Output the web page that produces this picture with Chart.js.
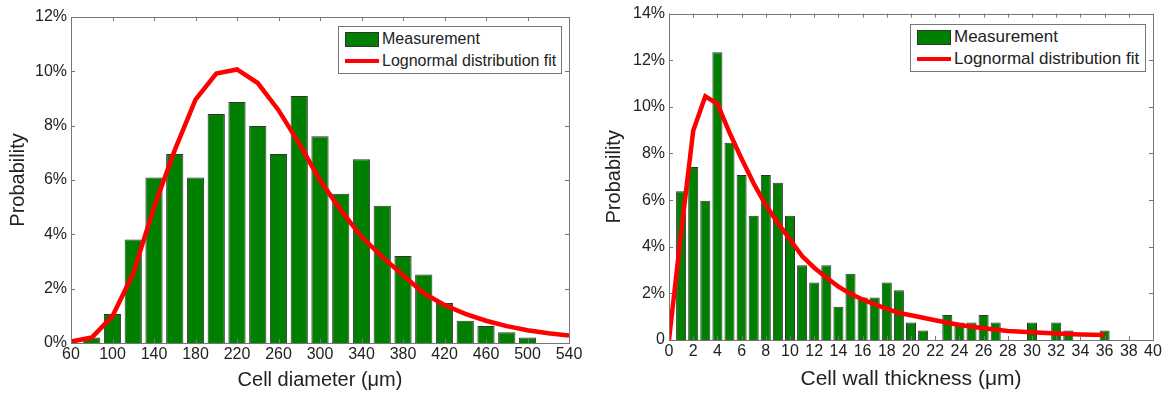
<!DOCTYPE html>
<html lang="en">
<head>
<meta charset="UTF-8">
<title>Cell diameter and cell wall thickness distributions</title>
<script src="https://cdn.jsdelivr.net/npm/chart.js"></script>
<style>
    html, body {
        margin: 0;
        padding: 0;
        background: #fff;
        width: 1169px;
        height: 394px;
        overflow: hidden;
        font-family: "Liberation Sans", Arial, sans-serif;
    }
    .panel {
        position: absolute;
        top: 0;
        height: 394px;
    }
    .legend {
        position: absolute;
        background: #fff;
        border: 1px solid #777;
        font-size: 16px;
        color: #222;
        padding: 1px 4px 1px 6px;
        line-height: 22px;
    }
    .legend .row {
        display: flex;
        align-items: center;
        white-space: nowrap;
    }
    .legend .swatch {
        width: 34px;
        margin-right: 3px;
    }
    .legend .box {
        height: 15px;
        background: #007f00;
        border: 1px solid #333;
        box-sizing: border-box;
    }
    .legend .ln {
        height: 4px;
        background: #ff0000;
    }
</style>
</head>
<body>
<div class="panel" style="left:0;width:590px"><canvas id="diamChart"></canvas></div>
<div class="panel" style="left:590px;width:579px"><canvas id="wallChart"></canvas></div>

<div class="legend" style="left:338px;top:26px;width:212px">
    <div class="row"><div class="swatch box"></div>Measurement</div>
    <div class="row"><div class="swatch ln"></div>Lognormal distribution fit</div>
</div>
<div class="legend" style="left:910px;top:24px;width:224px;font-size:17px">
    <div class="row"><div class="swatch box"></div>Measurement</div>
    <div class="row"><div class="swatch ln"></div>Lognormal distribution fit</div>
</div>

<script>
// left panel: cell diameter (um), probability in %
const diamBins = [80, 100, 120, 140, 160, 180, 200, 220, 240, 260, 280, 300, 320, 340, 360, 380, 400, 420, 440, 460, 480, 500];
const diamProb = [0.2, 1.07, 3.81, 6.09, 6.96, 6.09, 8.43, 8.87, 7.99, 6.96, 9.09, 7.61, 5.49, 6.76, 5.05, 3.2, 2.52, 1.47, 0.82, 0.63, 0.4, 0.2];
const diamFitX = [60, 80, 100, 120, 140, 160, 180, 200, 220, 240, 260, 280, 300, 320, 340, 360, 380, 400, 420, 440, 460, 480, 500, 520, 540];
const diamFitY = [0.05, 0.2, 0.99, 2.56, 5.0, 7.1, 8.96, 9.92, 10.07, 9.57, 8.57, 7.34, 5.99, 4.89, 3.91, 3.17, 2.5, 1.83, 1.4, 1.07, 0.82, 0.62, 0.47, 0.36, 0.28];

// right panel: cell wall thickness (um), probability in %
const wallBins = [1, 2, 3, 4, 5, 6, 7, 8, 9, 10, 11, 12, 13, 14, 15, 16, 17, 18, 19, 20, 21, 23, 24, 25, 26, 27, 30, 32, 33, 36];
const wallProb = [6.38, 7.42, 5.97, 12.34, 8.46, 7.08, 5.33, 7.08, 6.74, 5.33, 3.21, 2.47, 3.21, 1.43, 2.84, 1.82, 1.82, 2.47, 2.13, 0.75, 0.41, 1.07, 0.75, 0.75, 1.07, 0.75, 0.75, 0.75, 0.41, 0.41];
const wallFitX = [0, 1, 2, 3, 4, 5, 6, 7, 8, 9, 10, 11, 12, 13, 14, 15, 16, 17, 18, 19, 20, 22, 24, 26, 28, 30, 32, 34, 36];
const wallFitY = [0, 4.6, 8.97, 10.45, 10.13, 8.9, 7.77, 6.71, 5.79, 5.01, 4.31, 3.6, 3.1, 2.68, 2.29, 1.98, 1.74, 1.53, 1.34, 1.16, 1.06, 0.85, 0.64, 0.5, 0.39, 0.33, 0.28, 0.24, 0.21];

const textColor = '#222';
const axisColor = '#777';

// MATLAB-like box with inward tick marks on all four sides
const boxTicks = {
    id: 'boxTicks',
    afterDatasetsDraw(chart) {
        const {ctx, chartArea: a, scales} = chart;
        const len = 4;
        ctx.save();
        ctx.strokeStyle = axisColor;
        ctx.lineWidth = 1;
        ctx.beginPath();
        scales.x.ticks.forEach(t => {
            const px = Math.round(scales.x.getPixelForValue(t.value)) + 0.5;
            ctx.moveTo(px, a.bottom); ctx.lineTo(px, a.bottom - len);
            ctx.moveTo(px, a.top); ctx.lineTo(px, a.top + len);
        });
        scales.y.ticks.forEach(t => {
            const py = Math.round(scales.y.getPixelForValue(t.value)) + 0.5;
            ctx.moveTo(a.left, py); ctx.lineTo(a.left + len, py);
            ctx.moveTo(a.right, py); ctx.lineTo(a.right - len, py);
        });
        ctx.stroke();
        ctx.strokeRect(Math.round(a.left) + 0.5, Math.round(a.top) + 0.5,
            Math.round(a.right - a.left), Math.round(a.bottom - a.top));
        ctx.restore();
    }
};

function makeChart(id, bins, prob, fitX, fitY, opt) {
    const ctx = document.getElementById(id).getContext('2d');
    return new Chart(ctx, {
        type: 'bar',
        data: {
            datasets: [
                {
                    type: 'line',
                    label: 'Lognormal distribution fit',
                    data: fitX.map((x, i) => ({x: x, y: fitY[i]})),
                    borderColor: '#ff0000',
                    borderWidth: 4.5,
                    pointRadius: 0,
                    tension: 0,
                    fill: false,
                    order: 0
                },
                {
                    type: 'bar',
                    label: 'Measurement',
                    data: bins.map((x, i) => ({x: x, y: prob[i]})),
                    backgroundColor: '#007f00',
                    borderColor: '#333',
                    borderWidth: 1,
                    barPercentage: 0.83,
                    categoryPercentage: 1,
                    order: 1
                }
            ]
        },
        options: {
            responsive: true,
            maintainAspectRatio: false,
            animation: false,
            layout: {padding: opt.padding},
            plugins: {
                legend: {display: false},
                tooltip: {enabled: false}
            },
            scales: {
                x: {
                    type: 'linear',
                    min: opt.xMin,
                    max: opt.xMax,
                    offset: false,
                    grid: {display: false, drawTicks: false},
                    border: {display: false},
                    ticks: {
                        stepSize: opt.xStep,
                        autoSkip: false,
                        maxRotation: 0,
                        padding: 2,
                        color: textColor,
                        font: {family: '"Liberation Sans", Arial', size: 16}
                    },
                    title: {
                        display: true,
                        text: opt.xTitle,
                        color: textColor,
                        padding: {top: 0, bottom: 2},
                        font: {family: '"Liberation Sans", Arial', size: opt.xTitleSize}
                    },
                    afterFit(scale) { scale.height = opt.xAxisH; }
                },
                y: {
                    min: 0,
                    max: opt.yMax,
                    grid: {display: false, drawTicks: false},
                    border: {display: false},
                    ticks: {
                        stepSize: 2,
                        padding: 4,
                        color: textColor,
                        font: {family: '"Liberation Sans", Arial', size: 16},
                        callback: v => (v === 0 && opt.plainZero) ? '0' : v + '%'
                    },
                    title: {
                        display: true,
                        text: 'Probability',
                        color: textColor,
                        padding: {top: opt.yTitlePad, bottom: 0},
                        font: {family: '"Liberation Sans", Arial', size: 20}
                    },
                    afterFit(scale) { scale.width = opt.yAxisW; }
                }
            }
        },
        plugins: [boxTicks]
    });
}

makeChart('diamChart', diamBins, diamProb, diamFitX, diamFitY, {
    xMin: 60, xMax: 540, xStep: 40, yMax: 12,
    xTitle: 'Cell diameter (\u03bcm)', xTitleSize: 20,
    padding: {left: 0, right: 21, top: 17, bottom: 0},
    xAxisH: 51, yAxisW: 71, yTitlePad: 6, plainZero: false
});

makeChart('wallChart', wallBins, wallProb, wallFitX, wallFitY, {
    xMin: 0, xMax: 40, xStep: 2, yMax: 14,
    xTitle: 'Cell wall thickness (\u03bcm)', xTitleSize: 21,
    padding: {left: 0, right: 16, top: 9, bottom: 0},
    xAxisH: 54, yAxisW: 79, yTitlePad: 12, plainZero: true
});
</script>
</body>
</html>
